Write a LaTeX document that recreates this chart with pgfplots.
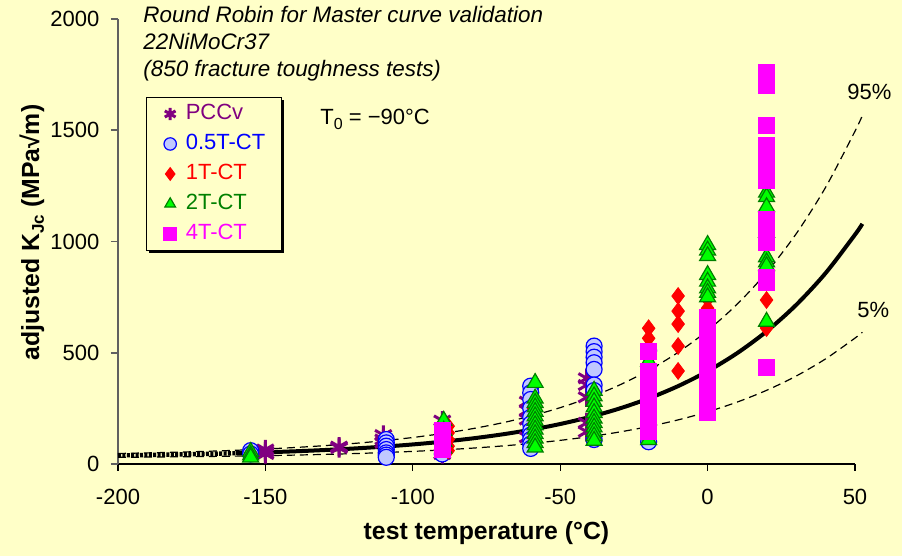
\documentclass[border=0pt]{standalone}
\usepackage{fontspec}
\setmainfont{Liberation Sans}
\usepackage{pgfplots}
\pgfplotsset{compat=1.18}
\usetikzlibrary{shadows}
\definecolor{bgc}{HTML}{FFFFC8}
\definecolor{pccv}{HTML}{800080}
\definecolor{halffill}{HTML}{C0C8FF}
\definecolor{twofill}{HTML}{00FF00}
\definecolor{twodraw}{HTML}{008000}
\definecolor{fourc}{HTML}{FF00FF}
\definecolor{axc}{HTML}{606060}
\begin{document}
\begin{tikzpicture}
\path[use as bounding box, fill=bgc] (-59pt,-46pt) rectangle (392pt,232pt);
\begin{axis}[
  at={(0pt,0pt)}, anchor=south west,
  scale only axis, width=368.5pt, height=222.5pt,
  xmin=-200, xmax=50, ymin=0, ymax=2000,
  axis lines*=left,
  x axis line style={black, line width=0.6pt},
  y axis line style={axc, line width=0.8pt},
  xtick={-200,-150,-100,-50,0,50},
  ytick={0,500,1000,1500,2000},
  tick align=outside, major tick length=3.5pt,
  xtick style={black, line width=0.6pt},
  ytick style={axc, line width=0.8pt},
  tick label style={font=\fontsize{11}{13}\selectfont},
  /pgf/number format/assume math mode=true,
  /pgf/number format/1000 sep={},
  yticklabel style={xshift=-2.3pt},
  xticklabel style={yshift=-5.6pt},
  xlabel={test temperature (°C)},
  xlabel style={font=\fontsize{12.4}{14}\selectfont\bfseries, at={(axis description cs:0.5,0)}, anchor=center, yshift=-34.5pt},
  ylabel={adjusted K\raisebox{-0.35ex}{\fontsize{8.5}{9}\selectfont Jc} (MPa√m)},
  ylabel style={font=\fontsize{12.4}{14}\selectfont\bfseries, at={(axis description cs:-0.1167,0.52)}, anchor=center},
  clip=false,
  legend cell align=left,
  legend image code/.code={\draw[#1] plot coordinates {(0pt,0pt)}; \path (-4pt,0pt) (4pt,0pt);},
  legend image post style={mark size=3.1pt},
  legend style={at={(0.038,0.825)}, anchor=north west, draw=black, fill=bgc, line width=0.6pt,
    font=\fontsize{11}{13}\selectfont,
    drop shadow={shadow xshift=1.2pt, shadow yshift=-1.2pt, fill=black, opacity=1},
    nodes={text height=8pt, text depth=2pt, inner sep=0.5pt},
    row sep=4pt, column sep=3pt, inner xsep=7.5pt, inner ysep=2.75pt},
]
% master curve and bounds
\addplot[black, line width=2.2pt, dash pattern=on 1.5pt off 0.7pt, forget plot] coordinates {
(-200,38.66) (-190,40.47) (-180,42.66) (-170,45.31) (-160,48.52)};
\addplot[black, line width=2pt, smooth, forget plot] coordinates {
(-160,48.52) (-150,52.39) (-140,57.07) (-130,62.74) (-120,69.59) (-110,77.87) (-100,87.89)
(-90,100) (-80,114.64) (-70,132.36) (-60,153.78) (-50,179.68) (-40,211.0) (-30,248.88)
(-20,294.67) (-10,350.05) (0,417.03) (10,498.01) (20,595.94) (30,714.37) (40,857.54)
(50,1030.7) (52.5,1079.4)};
\addplot[black, line width=0.6pt, dash pattern=on 4pt off 2.5pt, smooth, forget plot] coordinates {
(-200,30.08) (-190,31.05) (-180,32.24) (-170,33.67) (-160,35.40) (-150,37.49) (-140,40.02)
(-130,43.08) (-120,46.78) (-110,51.25) (-100,56.66) (-90,63.2) (-80,71.11) (-70,80.68)
(-60,92.24) (-50,106.23) (-40,123.14) (-30,143.59) (-20,168.32) (-10,198.23) (0,234.40)
(10,278.13) (20,331.01) (30,394.96) (40,472.27) (50,565.79) (52.5,592.0)};
\addplot[black, line width=0.6pt, dash pattern=on 4pt off 2.5pt, smooth, forget plot] coordinates {
(-200,47.24) (-190,49.89) (-180,53.09) (-170,56.95) (-160,61.63) (-150,67.28) (-140,74.12)
(-130,82.40) (-120,92.39) (-110,104.49) (-100,119.12) (-90,136.8) (-80,158.18) (-70,184.05)
(-60,215.32) (-50,253.13) (-40,298.86) (-30,354.16) (-20,421.02) (-10,501.88) (0,599.66)
(10,717.90) (20,860.88) (30,1033.78) (40,1242.8) (50,1495.7) (52.5,1566.6)};
% PCCv
\addplot[only marks, mark=asterisk, mark size=4.8pt, color=pccv, mark options={line width=1.5pt}] coordinates {
(-150,55) (-150,45) (-150,65)
(-125,72) (-125,78)
(-110,130) (-110,110) (-110,95)
(-90,195) (-90,45)
(-61,280) (-61,240) (-61,200) (-61,120)
(-41,385) (-41,355) (-41,300) (-41,185) (-41,145)};
\addlegendentry{\textcolor{pccv}{PCCv}}
% 0.5T-CT
\addplot[only marks, mark=*, mark size=4pt, color=blue, mark options={draw=blue, fill=halffill, line width=0.6pt}] coordinates {
(-155,60) (-155,45)
(-109,110) (-109,95) (-109,80) (-109,65) (-109,50) (-109,40) (-109,30)
(-90,45) (-90,100)
(-60,350) (-60,320) (-60,290) (-60,250) (-60,210) (-60,180) (-60,150) (-60,130) (-60,110) (-60,90) (-60,70)
(-38.5,530) (-38.5,505) (-38.5,480) (-38.5,455) (-38.5,425) (-38.5,355) (-38.5,330) (-38.5,110)
(-20,510) (-20,100)};
\addlegendentry{\textcolor{blue}{0.5T-CT}}
% 1T-CT
\addplot[only marks, mark=diamond*, mark size=4.2pt, color=red] coordinates {
(-155,50)
(-88,170) (-88,140) (-88,110) (-88,80) (-88,60)
(-59,250) (-59,180) (-59,120)
(-38.5,320) (-38.5,290) (-38.5,260) (-38.5,210) (-38.5,160) (-38.5,120)
(-20,610) (-20,565)
(-10,755) (-10,687) (-10,629) (-10,530) (-10,418)
(0,770) (0,740) (0,700)
(20,737) (20,611)};
\addlegendentry{\textcolor{red}{1T-CT}}
% 2T-CT
\addplot[only marks, mark=triangle*, mark size=4.6pt, color=twodraw, mark options={draw=twodraw, fill=twofill, line width=0.6pt}] coordinates {
(-155,55) (-155,40) (-155,30)
(-89.5,195) (-89.5,150) (-89.5,100) (-89.5,70)
(-58.5,365) (-58.5,295) (-58.5,275) (-58.5,255) (-58.5,235) (-58.5,215) (-58.5,195) (-58.5,175)
(-58.5,155) (-58.5,135) (-58.5,115) (-58.5,95) (-58.5,75)
(-38.5,330) (-38.5,305) (-38.5,280) (-38.5,255) (-38.5,230) (-38.5,205) (-38.5,185) (-38.5,165)
(-38.5,145) (-38.5,125) (-38.5,105)
(-20,460) (-20,108)
(0,985) (0,960) (0,935) (0,850) (0,820) (0,790) (0,770) (0,750)
(20,1220) (20,1200) (20,1155) (20,1040) (20,930) (20,907) (20,890) (20,640)};
\addlegendentry{\textcolor{twodraw}{2T-CT}}
% 4T-CT
\addplot[only marks, mark=square*, mark size=4pt, color=fourc] coordinates {
(-90,150) (-90,130) (-90,110) (-90,90) (-90,75) (-90,65)
(-20,505) (-20,415) (-20,395) (-20,375) (-20,355) (-20,335) (-20,315) (-20,295) (-20,275)
(-20,255) (-20,235) (-20,215) (-20,195) (-20,175) (-20,155) (-20,148)
(0,660) (0,640) (0,615) (0,590) (0,565) (0,540) (0,515) (0,490) (0,465) (0,440) (0,415)
(0,390) (0,365) (0,340) (0,315) (0,290) (0,265) (0,245) (0,230)
(20,1760) (20,1700) (20,1520) (20,1430) (20,1400) (20,1370) (20,1340) (20,1300) (20,1275)
(20,1100) (20,1070) (20,995) (20,840) (20,815) (20,436)};
\addlegendentry{\textcolor{fourc}{4T-CT}}
\end{axis}
\begin{scope}[every node/.style={inner sep=0pt, anchor=base west}]
\node[font=\fontsize{11.2}{13}\selectfont\itshape] at (12.5pt,220.65pt) {Round Robin for Master curve validation};
\node[font=\fontsize{11.2}{13}\selectfont\itshape] at (12.5pt,207.15pt) {22NiMoCr37};
\node[font=\fontsize{11.2}{13}\selectfont\itshape] at (12.5pt,193.65pt) {(850 fracture toughness tests)};
\node[font=\fontsize{11}{13}\selectfont] at (101pt,169.5pt) {T\raisebox{-0.4ex}{\fontsize{8}{9}\selectfont 0} = −90°C};
\node[font=\fontsize{11}{13}\selectfont] at (364.5pt,182pt) {95\%};
\node[font=\fontsize{11}{13}\selectfont] at (369.5pt,73.2pt) {5\%};
\end{scope}
\end{tikzpicture}
\end{document}
